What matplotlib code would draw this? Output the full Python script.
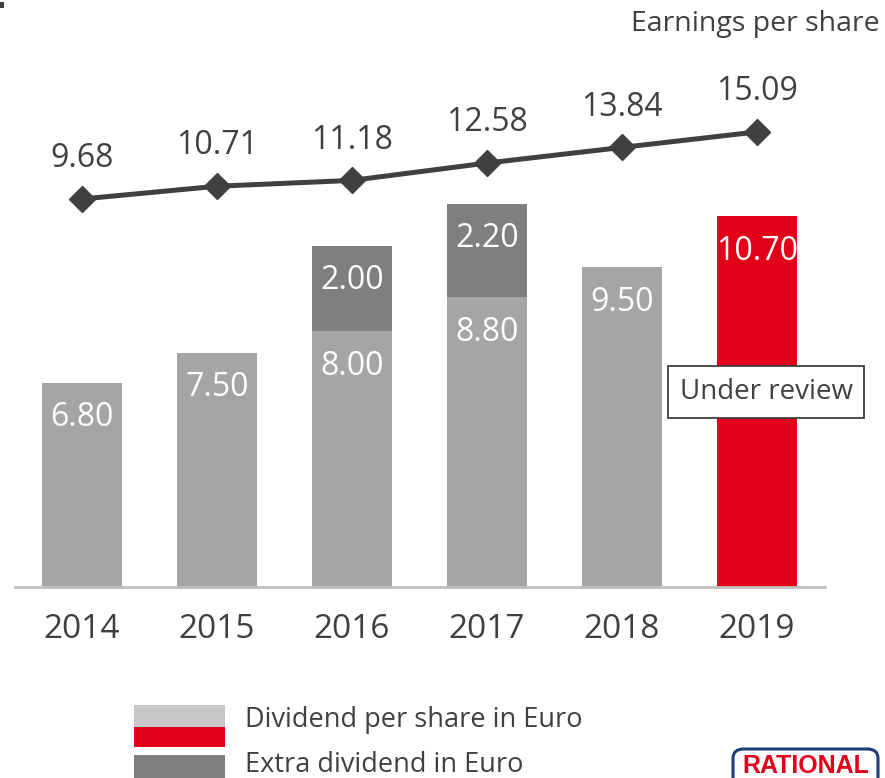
import numpy as np
import matplotlib
matplotlib.use("Agg")
import matplotlib.pyplot as plt
from matplotlib.patches import Rectangle, FancyBboxPatch

# data
years = ["2014", "2015", "2016", "2017", "2018", "2019"]
dividend = [6.80, 7.50, 8.00, 8.80, 9.50, 10.70]
extra = [0, 0, 2.00, 2.20, 0, 0]
eps = [9.68, 10.71, 11.18, 12.58, 13.84, 15.09]

txt_color = '#404040'
light = '#a5a5a5'
dark = '#7f7f7f'
red = '#e2001a'

plt.rcParams['font.family'] = ['Open Sans', 'DejaVu Sans']

W, H = 885, 778
fig = plt.figure(figsize=(W / 100, H / 100), dpi=100)

# axes geometry in pixels
left_px, right_px = 14.5, 824.5
base_px, top_px = 587, 100
ax = fig.add_axes([left_px / W, 1 - base_px / H, (right_px - left_px) / W, (base_px - top_px) / H])

x = np.arange(len(years))
bar_colors = [light] * 5 + [red]
ax.bar(x, dividend, width=0.59, color=bar_colors, bottom=0, zorder=2)
ax.bar(x, extra, width=0.59, bottom=dividend, color=dark, zorder=2)
ax.set_xlim(-0.5, 5.5)
ax.set_ylim(2, 2 + (base_px - top_px) / 42.6)

for s in ['top', 'left', 'right']:
    ax.spines[s].set_visible(False)
ax.spines['bottom'].set_color('#bfbfbf')
ax.spines['bottom'].set_linewidth(2)
ax.spines['bottom'].set_zorder(3)
ax.set_yticks([])
ax.set_xticks(x)
ax.set_xticklabels(years, fontsize=24, color=txt_color)
ax.tick_params(axis='x', length=0, pad=19)

# labels inside bars
for i in range(len(years)):
    ax.annotate('{:.2f}'.format(dividend[i]), (x[i], dividend[i]), xytext=(0, -25),
                textcoords='offset points', ha='center', va='center',
                color='white', fontsize=23, zorder=4)
    if extra[i] > 0:
        ax.annotate('{:.2f}'.format(extra[i]), (x[i], dividend[i] + extra[i]), xytext=(0, -25),
                    textcoords='offset points', ha='center', va='center',
                    color='white', fontsize=23, zorder=4)

# under review box
ax.text(5.067, 2 + (base_px - 392) / 42.6, 'Under review', ha='center', va='center',
        fontsize=20, color=txt_color, zorder=5,
        bbox=dict(boxstyle='square,pad=0.42', fc='white', ec='#404040', lw=1.3))

# earnings line on second scale
ax2 = ax.twinx()
px_per = 12.4
lo = 9.68 - (base_px - 199) / px_per
hi = 9.68 + (199 - top_px) / px_per
ax2.set_ylim(lo, hi)
ax2.axis('off')
ax2.plot(x, eps, color=txt_color, lw=3.6, marker='D', markersize=13, zorder=5)
for i in range(len(years)):
    ax2.annotate('{:.2f}'.format(eps[i]), (x[i], eps[i]), xytext=(0, 29),
                 textcoords='offset points', ha='center', va='center',
                 color=txt_color, fontsize=23)

fig.text(880 / W, 1 - 24 / H, 'Earnings per share', ha='right', va='center', fontsize=20.5, color=txt_color)

# legend drawn by hand
def fig_rect(x0, y0, x1, y1, c):
    fig.patches.append(Rectangle((x0 / W, 1 - y1 / H), (x1 - x0) / W, (y1 - y0) / H,
                                 transform=fig.transFigure, color=c, lw=0))

fig_rect(134, 705, 225, 727, '#c6c6c6')
fig_rect(134, 727, 225, 747, red)
fig_rect(134, 755, 225, 790, dark)
fig.text(245 / W, 1 - 720 / H, 'Dividend per share in Euro', va='center', fontsize=19.5, color=txt_color)
fig.text(245 / W, 1 - 765 / H, 'Extra dividend in Euro', va='center', fontsize=19.5, color=txt_color)

# small fragment top left
fig_rect(0, 2, 4, 8, txt_color)

# logo
logo = FancyBboxPatch((733 / W, -0.05), 145 / W, 0.05 + (778 - 749) / H,
                      boxstyle='round,pad=0,rounding_size=0.012', transform=fig.transFigure,
                      fc='white', ec='#1d3c78', lw=2.2)
fig.patches.append(logo)
fig.text(806 / W, 1 - 766 / H, 'RATIONAL', ha='center', va='center', fontsize=18,
         fontweight='bold', color=red, family='Liberation Sans')

fig.savefig('out.png', dpi=100)
